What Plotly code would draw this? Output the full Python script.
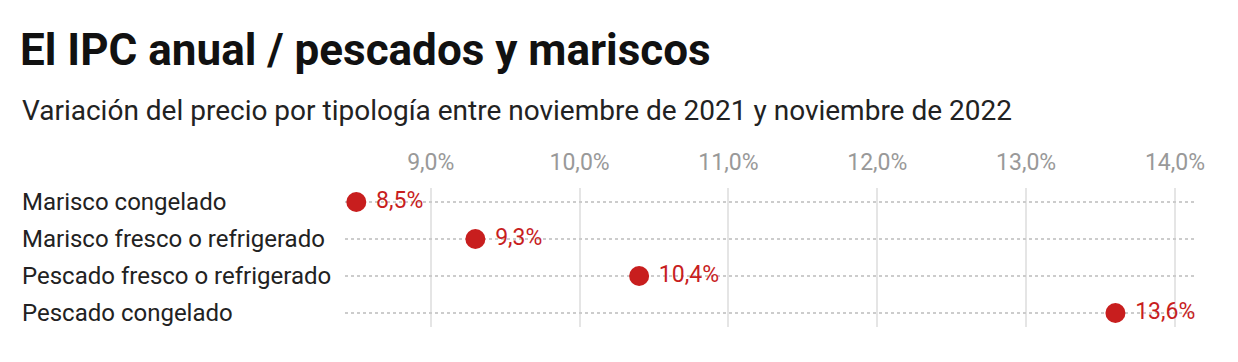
import plotly.graph_objects as go

categories = ["Marisco congelado", "Marisco fresco o refrigerado",
              "Pescado fresco o refrigerado", "Pescado congelado"]
values = [8.5, 9.3, 10.4, 13.6]
tick_vals = [9, 10, 11, 12, 13, 14]
tick_labels = ["9,0%", "10,0%", "11,0%", "12,0%", "13,0%", "14,0%"]
value_labels = [f"{v:.1f}".replace(".", ",") + "%" for v in values]

RED = "#c81e1e"
FONT = "Roboto"

W, H = 1238, 362
L, R, T, B = 345, 41, 188, 35
ph = H - T - B
pw = W - L - R

fig = go.Figure()
fig.add_trace(go.Scatter(
    x=values, y=categories, mode="markers",
    marker=dict(size=20, color=RED),
    cliponaxis=False, hoverinfo="skip",
))
fig.add_trace(go.Scatter(
    x=values, y=categories, mode="markers+text",
    marker=dict(size=30, color=RED, opacity=0),
    text=value_labels, textposition="middle right",
    textfont=dict(family=FONT, size=23, color=RED),
    cliponaxis=False, hoverinfo="skip",
))

for c in categories:
    fig.add_annotation(x=(20 - L) / pw, xref="paper", y=c, yref="y",
                       text=c, showarrow=False, xanchor="left", yanchor="middle",
                       font=dict(family=FONT, size=24, color="#222222"))

fig.add_annotation(x=(20 - L) / pw, xref="paper",
                   y=(H - B - 111) / ph, yref="paper",
                   text="Variación del precio por tipología entre noviembre de 2021 y noviembre de 2022",
                   showarrow=False, xanchor="left", yanchor="middle",
                   font=dict(family=FONT, size=28, color="#222222"))

fig.update_layout(
    width=W, height=H,
    margin=dict(l=L, r=R, t=T, b=B),
    paper_bgcolor="white", plot_bgcolor="white",
    showlegend=False,
    title=dict(text="<b>El IPC anual / pescados y mariscos</b>",
               xref="container", yref="container",
               x=20 / W, xanchor="left", y=1 - 50 / H, yanchor="middle",
               font=dict(family=FONT, size=44, color="#111111")),
    xaxis=dict(side="top", range=[8.424, 14.148], tickvals=tick_vals, ticktext=tick_labels,
               showgrid=True, gridcolor="#e5e5e5", gridwidth=2,
               zeroline=False, showline=False, ticks="",
               ticklabelstandoff=12,
               tickfont=dict(family=FONT, size=23, color="#999999")),
    yaxis=dict(categoryorder="array", categoryarray=categories,
               range=[3.378, -0.378], showticklabels=False,
               showgrid=True, gridcolor="#cccccc", gridwidth=1.5, griddash="dot",
               zeroline=False, showline=False, ticks=""),
)

fig.write_html("out.html", config={"displayModeBar": False},
               post_script="document.body.style.margin='0';")
